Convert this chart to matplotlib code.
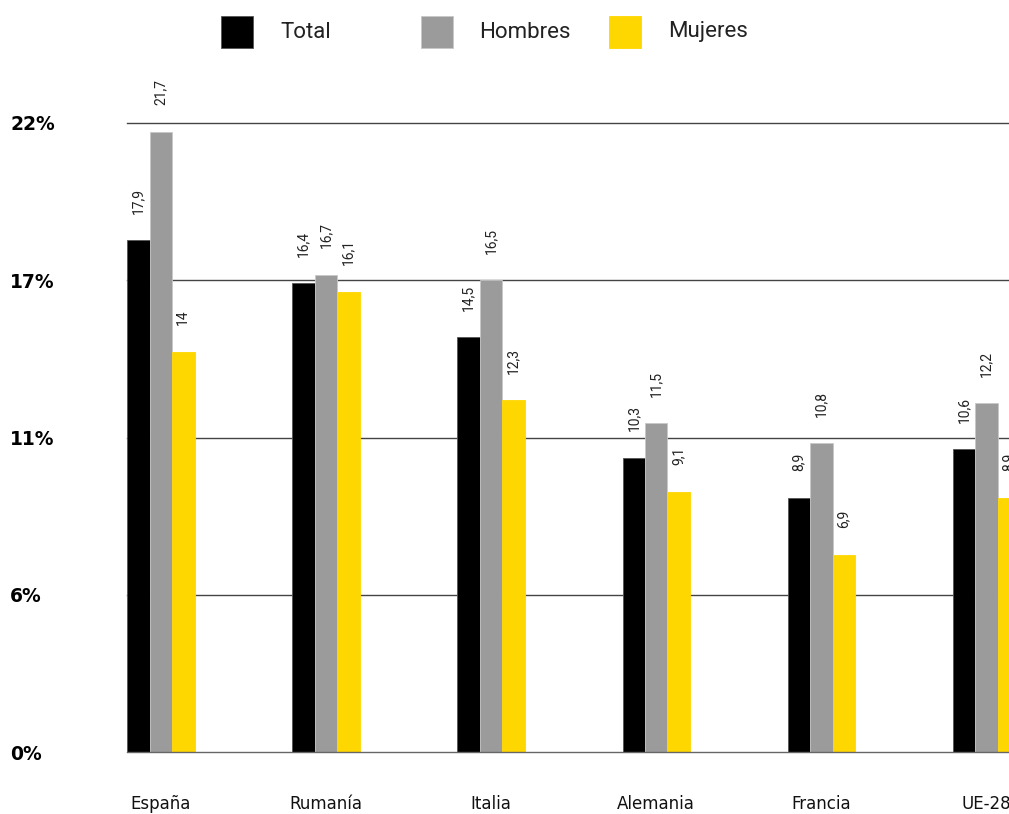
import matplotlib
matplotlib.use("Agg")
import matplotlib.pyplot as plt
import numpy as np
from matplotlib.patches import Rectangle

# --- Datos ---
paises = ["España", "Rumanía", "Italia", "Alemania", "Francia", "UE-28"]
total = [17.9, 16.4, 14.5, 10.3, 8.9, 10.6]
hombres = [21.7, 16.7, 16.5, 11.5, 10.8, 12.2]
mujeres = [14.0, 16.1, 12.3, 9.1, 6.9, 8.9]
series_nombres = ["Total", "Hombres", "Mujeres"]
yticks = [0, 5.5, 11, 16.5, 22]
ytick_labels = ["0%", "6%", "11%", "17%", "22%"]

# --- Estilo ---
COLORES = ["#000000", "#9b9b9b", "#ffd700"]
BORDES = ["#555555", "#c8c8c8", "#ffd700"]
W, H = 1009, 814
BAR_W = 0.136
NARROW = ["Liberation Sans Narrow", "Roboto", "DejaVu Sans"]


def fmt(v):
    s = f"{v:.1f}".replace(".", ",")
    return s[:-2] if s.endswith(",0") else s


fig = plt.figure(figsize=(W / 100, H / 100), dpi=100)
ax = fig.add_axes([127 / W, 62 / H, 882 / W, 629 / H])

x = np.arange(len(paises))
for i, vals in enumerate([total, hombres, mujeres]):
    xs = x + (i - 1) * BAR_W
    ax.bar(xs, vals, width=BAR_W, color=COLORES[i], edgecolor=BORDES[i],
           linewidth=0.6, zorder=3)
    for xi, v in zip(xs, vals):
        ax.annotate(fmt(v), xy=(xi, v), xytext=(0, 19), textcoords="offset points",
                    rotation=90, ha="center", va="bottom", fontsize=10,
                    family=NARROW, color="#222222", annotation_clip=False)

# lineas horizontales
for t in yticks:
    ax.axhline(t, color="#444444" if t else "#666666", linewidth=1.0,
               zorder=1 if t else 4, clip_on=False)

ax.set_xlim(-0.205, 5.136)
ax.set_ylim(0, 22)
for s in ax.spines.values():
    s.set_visible(False)

ax.set_yticks(yticks)
ax.set_yticklabels(ytick_labels, fontsize=13.5, fontweight="bold",
                   family="DejaVu Sans", ha="left")
ax.tick_params(axis="y", length=0, pad=84)

ax.set_xticks(x)
ax.set_xticklabels(paises, fontsize=12, family="DejaVu Sans", color="#111111")
ax.tick_params(axis="x", length=0, pad=31)

# leyenda manual
leyenda_cuadros = [221, 421, 609]
leyenda_textos = [280, 479, 668]
for i, nombre in enumerate(series_nombres):
    fig.patches.append(Rectangle((leyenda_cuadros[i] / W, 1 - 48 / H), 32 / W, 32 / H,
                                 transform=fig.transFigure, facecolor=COLORES[i],
                                 edgecolor=BORDES[i], linewidth=0.6))
    fig.text(leyenda_textos[i] / W, 1 - 32 / H, nombre, fontsize=16,
             family=["Roboto", "DejaVu Sans"], color="#222222",
             ha="left", va="center")

fig.savefig("out.png", dpi=100)
